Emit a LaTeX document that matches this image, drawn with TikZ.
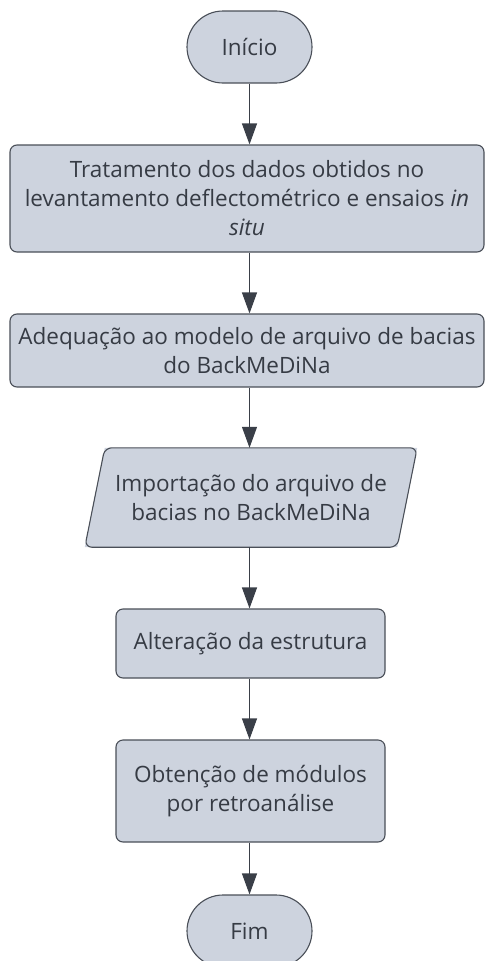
\documentclass[tikz,border=0pt]{standalone}
\usepackage{fontspec}
\setmainfont{Open Sans}
\usetikzlibrary{arrows.meta}
\definecolor{boxfill}{HTML}{CDD3DE}
\definecolor{boxline}{HTML}{4A4F58}
\definecolor{txt}{HTML}{363B44}
\definecolor{arr}{HTML}{3A3F48}
\tikzset{
  x=1pt, y=1pt,
  base/.style={fill=boxfill, draw=boxline, line width=1.1pt, text=txt, align=center, font=\fontsize{22.5}{29}\selectfont, inner sep=0pt},
  term/.style={base, rounded corners=36pt, minimum width=125pt, minimum height=72pt},
  proc/.style={base, rounded corners=7pt},
  paratext/.style={text=txt, align=center, font=\fontsize{22.5}{29}\selectfont, inner sep=0pt, minimum width=332pt, minimum height=99pt},
  flow/.style={draw=arr, line width=1.1pt, -{Triangle[width=15pt,length=21pt]}}
}
\begin{document}
\begin{tikzpicture}
\useasboundingbox (0,0) rectangle (485,-961);
\begin{scope}
\clip (0,0) rectangle (485,-961);
\node[term] (inicio) at (249.5,-47) {Início};
\node[proc, minimum width=474pt, minimum height=107pt] (trat) at (247,-198.5) {Tratamento dos dados obtidos no\\levantamento deflectométrico e ensaios \textit{in}\\\textit{situ}};
\node[proc, minimum width=474pt, minimum height=73pt] (adeq) at (247,-350.5) {Adequação ao modelo de arquivo de bacias\\do BackMeDiNa};
\node[paratext] (imp) at (251,-497.5) {};
\node[proc, minimum width=269pt, minimum height=69pt] (alt) at (250.5,-643.5) {Alteração da estrutura};
\node[proc, minimum width=269pt, minimum height=102pt] (obt) at (250.5,-791) {Obtenção de módulos\\por retroanálise};
\node[term] (fim) at (249.5,-931) {Fim};
\end{scope}
\fill[boxfill] (imp.south west) -- ([xshift=-20pt]imp.south east) -- (imp.north east) -- ([xshift=20pt]imp.north west) -- cycle;
\draw[boxline, line width=1.1pt, rounded corners=7pt] (imp.south west) -- ([xshift=-20pt]imp.south east) -- (imp.north east) -- ([xshift=20pt]imp.north west) -- cycle;
\node[paratext] (imptext) at (imp) {Importação do arquivo de\\bacias no BackMeDiNa};
\draw[flow] (inicio.south) -- (inicio.south |- trat.north);
\draw[flow] (inicio.south |- trat.south) -- (inicio.south |- adeq.north);
\draw[flow] (inicio.south |- adeq.south) -- (inicio.south |- imp.north);
\draw[flow] (inicio.south |- imp.south) -- (inicio.south |- alt.north);
\draw[flow] (inicio.south |- alt.south) -- (inicio.south |- obt.north);
\draw[flow] (inicio.south |- obt.south) -- (fim.north);
\end{tikzpicture}
\end{document}
